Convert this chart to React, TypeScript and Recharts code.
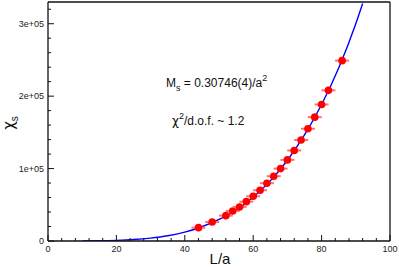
import React from "react";
import {
  ComposedChart,
  Line,
  Scatter,
  XAxis,
  YAxis,
} from "recharts";

// measured points (L/a, chi_s)
const pointL = [44, 48, 52, 54, 56, 58, 60, 62, 64, 66, 68, 70, 72, 74, 76, 78, 80, 82, 86];
const pointChi = [
  18400, 26300, 35000, 41500, 47000, 54300, 61800, 70100, 79800, 89500,
  100000, 112000, 125000, 139500, 155000, 171000, 188500, 208000, 249000,
];

// fit curve
const fitL = [10, 15, 20, 25, 30, 35, 40, 44, 50, 55, 60, 65, 70, 75, 80, 85, 90, 92];
const fitChi = [
  50, 250, 900, 2000, 4000, 7200, 12300, 18000, 29800, 42500, 60500, 83000,
  111500, 146500, 188500, 239000, 300000, 328000,
];

const xTicks = [
  0, 4, 8, 12, 16, 20, 24, 28, 32, 36, 40, 44, 48, 52, 56, 60, 64, 68, 72, 76,
  80, 84, 88, 92, 96, 100,
];
const xMajor = [0, 20, 40, 60, 80, 100];
const yTicks = [
  0, 20000, 40000, 60000, 80000, 100000, 120000, 140000, 160000, 180000,
  200000, 220000, 240000, 260000, 280000, 300000, 320000,
];
const yMajor = [0, 100000, 200000, 300000];
const yLabels = ["0", "1e+05", "2e+05", "3e+05"];

const points = pointL.map((L, i) => ({ L, chi: pointChi[i] }));
const fit = fitL.map((L, i) => ({ L, chi: fitChi[i] }));

const FONT = "'Liberation Sans', Arial, sans-serif";
const GREEK = "'DejaVu Sans', sans-serif";
const AX = "#111";
const axisLine = { stroke: AX, strokeWidth: 1.3 };

function BottomTick(props: any) {
  const { x, y, payload } = props;
  const major = xMajor.includes(payload.value);
  return (
    <g>
      <line x1={x} x2={x} y1={y} y2={y - (major ? 6 : 3)} stroke={AX} strokeWidth={1} />
      {major && (
        <text x={x} y={y + 11} textAnchor="middle" fontSize={9} fontFamily={FONT} fill="#222">
          {payload.value}
        </text>
      )}
    </g>
  );
}

function TopTick(props: any) {
  const { x, y, payload } = props;
  const major = xMajor.includes(payload.value);
  return <line x1={x} x2={x} y1={y} y2={y + (major ? 6 : 3)} stroke={AX} strokeWidth={1} />;
}

function LeftTick(props: any) {
  const { x, y, payload } = props;
  const idx = yMajor.indexOf(payload.value);
  const major = idx >= 0;
  return (
    <g>
      <line x1={x} x2={x + (major ? 6 : 3)} y1={y} y2={y} stroke={AX} strokeWidth={1} />
      {major && (
        <text x={x - 4} y={y} dy="0.35em" textAnchor="end" fontSize={9} fontFamily={FONT} fill="#222">
          {yLabels[idx]}
        </text>
      )}
    </g>
  );
}

function RightTick(props: any) {
  const { x, y, payload } = props;
  const major = yMajor.includes(payload.value);
  return <line x1={x} x2={x - (major ? 6 : 3)} y1={y} y2={y} stroke={AX} strokeWidth={1} />;
}

function PointShape(props: any) {
  const { cx, cy } = props;
  return (
    <g>
      <line x1={cx - 7} x2={cx + 7} y1={cy} y2={cy} stroke="#ff7070" strokeWidth={2} />
      <circle cx={cx} cy={cy} r={3.8} fill="#ff0000" />
    </g>
  );
}

export default function App() {
  return (
    <div style={{ position: "absolute", left: 0, top: 0, background: "#fff" }}>
      <ComposedChart
        width={399}
        height={267}
        margin={{ top: 0, right: 0, bottom: 0, left: 0 }}
      >
        <XAxis
          dataKey="L"
          type="number"
          domain={[0, 100]}
          ticks={xTicks}
          interval={0}
          tickSize={0}
          tickMargin={0}
          tick={<BottomTick />}
          height={26}
          axisLine={axisLine}
        />
        <XAxis
          xAxisId="top"
          orientation="top"
          dataKey="L"
          type="number"
          domain={[0, 100]}
          ticks={xTicks}
          interval={0}
          tickSize={0}
          tickMargin={0}
          tick={<TopTick />}
          height={2}
          axisLine={axisLine}
        />
        <YAxis
          dataKey="chi"
          type="number"
          domain={[0, 330000]}
          ticks={yTicks}
          interval={0}
          tickSize={0}
          tickMargin={0}
          tick={<LeftTick />}
          width={48}
          axisLine={axisLine}
          allowDataOverflow
        />
        <YAxis
          yAxisId="right"
          orientation="right"
          dataKey="chi"
          type="number"
          domain={[0, 330000]}
          ticks={yTicks}
          interval={0}
          tickSize={0}
          tickMargin={0}
          tick={<RightTick />}
          width={9}
          axisLine={axisLine}
        />
        <Line
          data={fit}
          dataKey="chi"
          type="monotone"
          stroke="#0000ff"
          strokeWidth={1.4}
          dot={false}
          isAnimationActive={false}
        />
        <Scatter
          data={points}
          dataKey="chi"
          shape={<PointShape />}
          isAnimationActive={false}
        />
        <text x={166} y={87} fontSize={12} fontFamily={FONT} fill="#111">
          M<tspan fontSize={9} dy={4}>s</tspan>
          <tspan dy={-4}> = 0.30746(4)/a</tspan>
          <tspan fontSize={9} dy={-6}>2</tspan>
        </text>
        <text x={172} y={125} fontSize={12} fontFamily={FONT} fill="#111">
          <tspan fontFamily={GREEK}>χ</tspan>
          <tspan fontSize={9} dy={-6}>2</tspan>
          <tspan dy={6}>/d.o.f. ~ 1.2</tspan>
        </text>
        <text x={220} y={264} textAnchor="middle" fontSize={15} fontFamily={FONT} fill="#111">
          L/a
        </text>
        <text
          x={14}
          y={123}
          textAnchor="middle"
          fontSize={15}
          fontFamily={FONT}
          fill="#111"
          transform="rotate(-90 14 123)"
        >
          <tspan fontFamily={GREEK}>χ</tspan>
          <tspan fontSize={10} dy={4}>s</tspan>
        </text>
      </ComposedChart>
    </div>
  );
}
